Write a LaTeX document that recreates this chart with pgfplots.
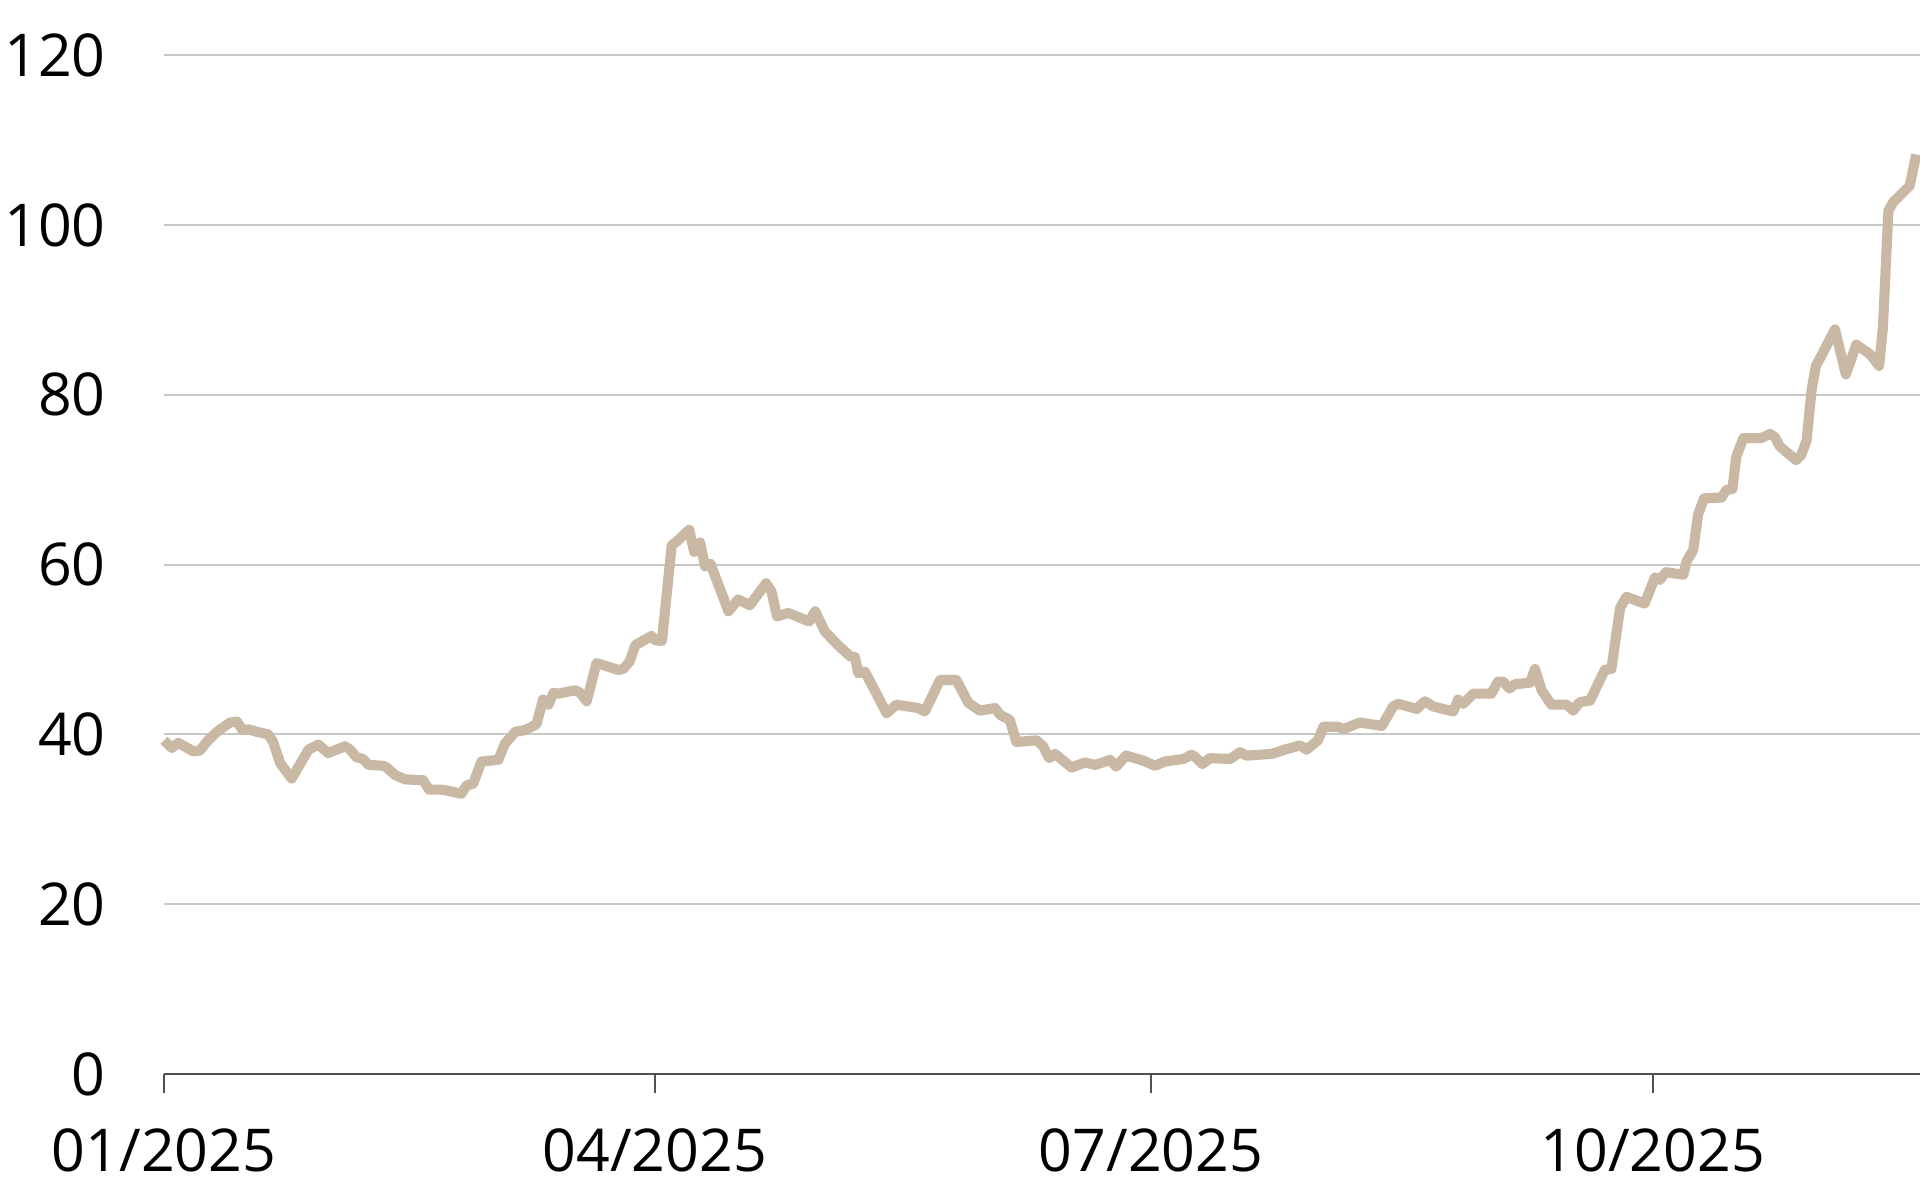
\documentclass[border=0pt]{standalone}
\usepackage{fontspec}
\setmainfont{Open Sans}
\usepackage{pgfplots}
\pgfplotsset{compat=1.18}
\definecolor{linebeige}{HTML}{C8B8A4}
\definecolor{gridgray}{HTML}{C8C8C8}
\definecolor{axisgray}{HTML}{505050}

\pgfplotstableread{
day value
0 39.3
1.4 38.4
2.6 39.0
5.4 38.0
6.6 38.1
7.8 39.1
9.7 40.3
12.1 41.4
13.4 41.5
14.4 40.5
15.5 40.6
17.0 40.3
19.1 40.0
20.0 39.1
21.3 36.6
23.4 34.8
26.5 38.2
28.3 38.8
30.1 37.8
33.2 38.6
34.1 38.2
35.3 37.3
36.5 37.1
37.5 36.4
40.2 36.3
40.8 36.1
42.4 35.2
44.2 34.7
47.5 34.6
48.6 33.5
50.6 33.5
51.8 33.4
54.5 33.0
55.5 34.0
56.7 34.2
58.2 36.8
61.3 37.0
62.5 38.9
64.4 40.3
66.2 40.5
68.3 41.2
69.5 44.1
70.5 43.5
71.4 44.9
72.3 44.8
75.4 45.2
76.3 44.9
77.5 43.9
79.3 48.4
83.3 47.6
84.2 47.7
85.4 48.6
86.4 50.5
89.4 51.6
90.0 51.1
91.3 51.0
93.1 62.3
94.0 62.7
96.3 64.1
97.2 61.5
98.3 62.6
99.2 59.8
100.2 60.1
103.5 54.5
105.3 55.9
107.4 55.2
110.4 57.8
111.4 56.8
112.4 53.9
114.5 54.3
118.3 53.3
119.4 54.5
121.2 52.1
123.6 50.5
125.8 49.2
126.7 49.1
127.3 47.2
128.5 47.4
132.5 42.5
134.3 43.5
138.3 43.1
139.5 42.7
142.3 46.4
145.3 46.4
147.5 43.7
149.6 42.8
152.4 43.1
153.3 42.3
155.1 41.7
156.3 39.1
160.0 39.3
161.2 38.6
162.3 37.2
163.4 37.7
166.4 36.1
168.9 36.7
170.7 36.4
173.5 37.0
174.6 36.2
176.4 37.5
179.6 36.9
181.7 36.3
183.5 36.8
186.9 37.1
188.4 37.6
189.0 37.4
190.4 36.5
191.8 37.2
195.5 37.1
197.3 37.9
198.5 37.5
203.1 37.7
205.5 38.2
208.3 38.7
209.5 38.2
211.6 39.3
212.6 40.9
215.3 40.9
216.2 40.6
219.3 41.4
223.3 41.0
225.4 43.3
226.3 43.6
229.7 43.0
231.2 43.9
232.7 43.3
236.4 42.7
237.3 44.1
238.2 43.6
240.1 44.8
243.4 44.8
244.6 46.2
245.6 46.2
246.7 45.4
247.7 45.9
250.5 46.1
251.4 47.7
252.6 45.2
254.4 43.5
257.2 43.5
258.4 42.8
259.6 43.8
261.5 44.0
264.2 47.6
265.4 47.7
267.0 54.9
268.2 56.2
271.5 55.4
273.4 58.5
274.3 58.2
275.4 59.1
278.6 58.8
279.2 60.4
280.4 61.7
281.3 65.9
282.4 67.8
285.6 67.9
286.5 68.8
287.6 68.9
288.3 72.7
289.6 74.9
292.9 74.9
294.5 75.4
295.4 75.0
296.3 73.9
299.3 72.3
300.2 72.9
301.2 74.6
302.1 80.5
302.9 83.4
303.9 84.6
306.4 87.7
308.4 82.4
310.3 85.9
312.8 84.8
314.5 83.4
315.2 88.0
316.2 101.7
317.1 102.7
320.1 104.6
321.3 108.3
}\pricedata

\begin{document}
\begin{tikzpicture}
\useasboundingbox (-1.367,-1.05) rectangle (14.633,8.95);
\begin{axis}[
  scale only axis,
  width=14.633cm, height=8.49cm,
  xmin=0, xmax=322, ymin=0, ymax=120,
  axis lines*=left,
  x axis line style={axisgray, line width=0.6pt},
  y axis line style={draw=none},
  xtick={0,90,181,273},
  xticklabels={01/2025,04/2025,07/2025,10/2025},
  ytick={0,20,40,60,80,100,120},
  tick align=outside,
  xtick style={axisgray, line width=0.6pt},
  major tick length=0.16cm,
  ytick style={draw=none},
  ymajorgrids,
  grid style={gridgray, line width=0.5pt},
  clip=false,
  tick label style={font=\fontsize{14}{16}\selectfont, text=black},
  xticklabel style={anchor=north, inner sep=0pt, yshift=-0.29cm},
  yticklabel style={anchor=east, inner sep=0pt, xshift=-0.32cm},
  /pgf/number format/assume math mode=true,
]
\addplot[linebeige, line width=2.4pt, line join=round, no marks] table[x=day, y=value] {\pricedata};
\end{axis}
\end{tikzpicture}
\end{document}
